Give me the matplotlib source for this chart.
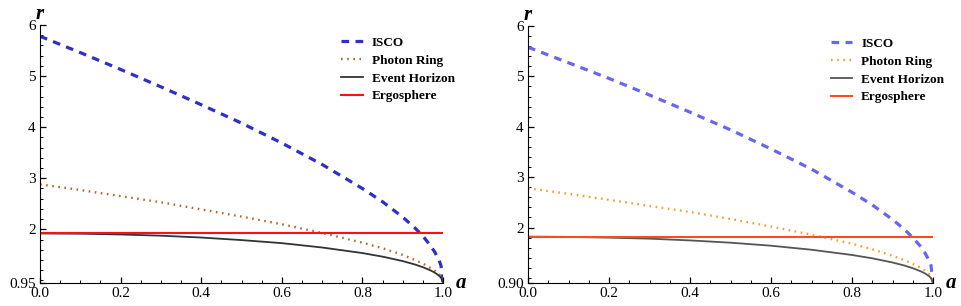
import numpy as np
import matplotlib
matplotlib.use('Agg')
import matplotlib.pyplot as plt
from matplotlib.ticker import MultipleLocator

# spin parameter
a = [0, 0.1, 0.2, 0.3, 0.4, 0.5, 0.6, 0.7, 0.8, 0.85, 0.9, 0.93, 0.95, 0.97, 0.98, 0.99, 0.995, 1.0]

# left panel
isco_left = [5.78, 5.46, 5.13, 4.79, 4.44, 4.08, 3.69, 3.27, 2.80, 2.54, 2.24, 2.03, 1.87, 1.67, 1.55, 1.40, 1.29, 0.96]
photon_left = [2.88, 2.77, 2.65, 2.53, 2.39, 2.25, 2.10, 1.93, 1.74, 1.63, 1.50, 1.40, 1.33, 1.24, 1.19, 1.12, 1.07, 0.96]
horizon_left = [1.92, 1.915, 1.90, 1.876, 1.84, 1.79, 1.73, 1.645, 1.536, 1.466, 1.379, 1.313, 1.26, 1.193, 1.151, 1.095, 1.056, 0.96]
ergo_left = [1.92, 1.92]

# right panel
isco_right = [5.58, 5.27, 4.96, 4.63, 4.29, 3.94, 3.56, 3.16, 2.70, 2.45, 2.16, 1.96, 1.80, 1.62, 1.50, 1.35, 1.25, 0.91]
photon_right = [2.78, 2.67, 2.55, 2.43, 2.31, 2.17, 2.02, 1.86, 1.68, 1.57, 1.44, 1.35, 1.28, 1.20, 1.15, 1.08, 1.03, 0.91]
horizon_right = [1.82, 1.815, 1.80, 1.78, 1.745, 1.70, 1.64, 1.56, 1.456, 1.39, 1.307, 1.245, 1.194, 1.131, 1.091, 1.038, 1.0, 0.91]
ergo_right = [1.82, 1.82]

ergo_a = [0, 1.0]
labels = ['ISCO', 'Photon Ring', 'Event Horizon', 'Ergosphere']
x_ticks = [0.0, 0.2, 0.4, 0.6, 0.8, 1.0]
y_major = [2, 3, 4, 5, 6]

plt.rcParams['font.family'] = ['Liberation Serif', 'DejaVu Serif']


def plot_panel(ax, isco, photon, horizon, ergo, ymin, colors):
    ax.plot(a, isco, color=colors[0], lw=2.3, linestyle=(0, (2.4, 2.0)), label=labels[0])
    ax.plot(a, photon, color=colors[1], lw=1.7, linestyle=(0, (0.7, 1.9)), label=labels[1])
    ax.plot(a, horizon, color=colors[2], lw=1.3, label=labels[2])
    ax.plot(ergo_a, ergo, color=colors[3], lw=1.5, label=labels[3])

    ax.set_xlim(0, 1.0)
    ax.set_ylim(ymin, 6)
    ax.spines['top'].set_visible(False)
    ax.spines['right'].set_visible(False)
    ax.set_xticks(x_ticks)
    ax.set_xticklabels(['{:.1f}'.format(t) for t in x_ticks])
    ax.set_yticks([ymin] + y_major)
    ax.set_yticklabels(['{:.2f}'.format(ymin)] + [str(t) for t in y_major])
    ax.xaxis.set_minor_locator(MultipleLocator(0.05))
    ax.yaxis.set_minor_locator(MultipleLocator(0.2))
    ax.tick_params(which='major', direction='in', length=4, width=0.9, labelsize=11, pad=3)
    ax.tick_params(which='minor', direction='in', length=2.5, width=0.7)

    ax.annotate('a', xy=(1, 0), xycoords='axes fraction', xytext=(13, 0), textcoords='offset points',
                fontsize=15, style='italic', weight='bold', va='center', ha='center')
    ax.annotate('r', xy=(0, 1), xycoords='axes fraction', xytext=(0, 8), textcoords='offset points',
                fontsize=15, style='italic', weight='bold', va='center', ha='center')

    ax.legend(loc='upper left', bbox_to_anchor=(0.725, 0.99), frameon=False,
              prop={'weight': 'bold', 'size': 9.5}, handlelength=1.6, handletextpad=0.7,
              labelspacing=0.42, borderaxespad=0.3)


fig = plt.figure(figsize=(9.61, 3.06), dpi=100)
ax1 = fig.add_axes([40 / 961, 1 - 283 / 306, 403 / 961, 258 / 306])
ax2 = fig.add_axes([528 / 961, 1 - 283 / 306, 405 / 961, 257 / 306])

plot_panel(ax1, isco_left, photon_left, horizon_left, ergo_left, 0.95,
           ['#2f2fc8', '#b8692a', '#333333', '#ff1010'])
plot_panel(ax2, isco_right, photon_right, horizon_right, ergo_right, 0.90,
           ['#6666f2', '#f0a030', '#555555', '#ff4a1a'])

fig.savefig('out.png', dpi=100)
